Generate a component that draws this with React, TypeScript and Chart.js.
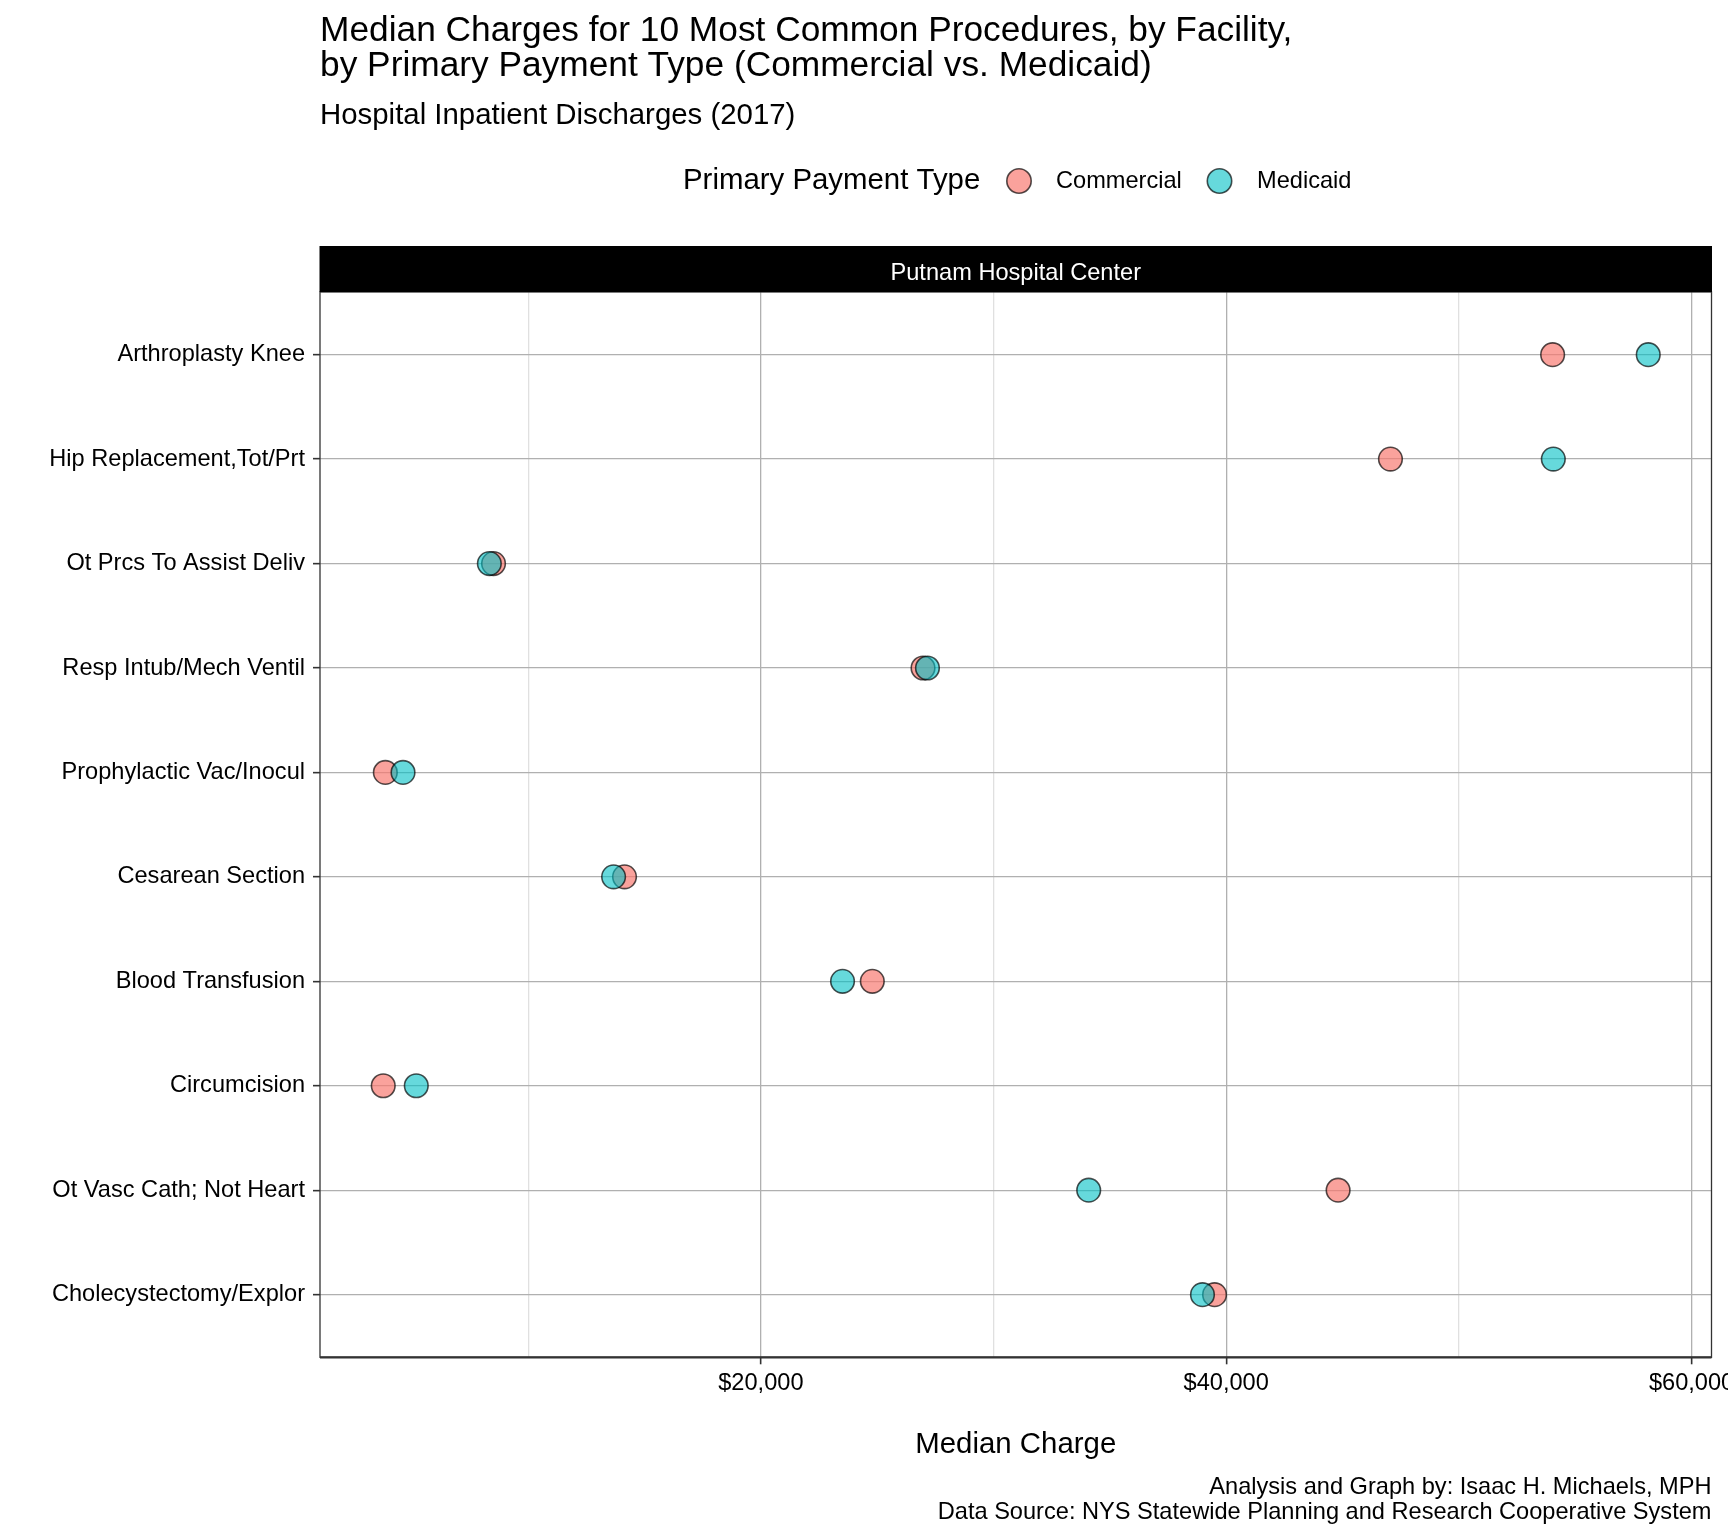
import React, { useEffect, useRef } from 'react';
import { Chart, registerables } from 'chart.js';

Chart.register(...registerables);

// ---------- data ----------
const procedures = [
  'Arthroplasty Knee',
  'Hip Replacement,Tot/Prt',
  'Ot Prcs To Assist Deliv',
  'Resp Intub/Mech Ventil',
  'Prophylactic Vac/Inocul',
  'Cesarean Section',
  'Blood Transfusion',
  'Circumcision',
  'Ot Vasc Cath; Not Heart',
  'Cholecystectomy/Explor',
];
const commercialCharges = [54030, 47060, 8510, 26970, 3860, 14140, 24790, 3770, 44810, 39500];
const medicaidCharges = [58140, 54060, 8330, 27160, 4620, 13670, 23510, 5190, 34090, 38980];
const seriesNames = ['Commercial', 'Medicaid'];
const xGridValues = [10000, 20000, 30000, 40000, 50000, 60000];
const majorTickValues = [20000, 40000, 60000];

const titleLines = [
  'Median Charges for 10 Most Common Procedures, by Facility,',
  'by Primary Payment Type (Commercial vs. Medicaid)',
];
const subtitle = 'Hospital Inpatient Discharges (2017)';
const legendTitle = 'Primary Payment Type';
const facility = 'Putnam Hospital Center';
const xTitle = 'Median Charge';
const captionLines = [
  'Analysis and Graph by: Isaac H. Michaels, MPH',
  'Data Source: NYS Statewide Planning and Research Cooperative System',
];

// ---------- styling ----------
const FONT = '"Liberation Sans", Arial, Helvetica, sans-serif';
const W = 1728;
const H = 1536;
const SMALL = 23.6;
const MEDIUM = 29.4;
const LARGE = 35.3;
const fillCommercial = 'rgba(248,118,109,0.68)';
const fillMedicaid = 'rgba(0,191,196,0.6)';
const pointBorder = 'rgba(0,0,0,0.68)';
const majorGrid = '#b0b0b0';
const minorGrid = '#e0e0e0';

const allVals = [...commercialCharges, ...medicaidCharges];
const dMin = Math.min(...allVals);
const dMax = Math.max(...allVals);
const xMin = dMin - 0.05 * (dMax - dMin);
const xMax = dMax + 0.05 * (dMax - dMin);

const fmtDollar = (v: number) => '$' + Math.round(v).toLocaleString('en-US');
const isMajor = (v: number) => majorTickValues.includes(v);

const decorPlugin = {
  id: 'decor',
  beforeDraw(chart: any) {
    const { ctx } = chart;
    ctx.save();
    ctx.fillStyle = '#ffffff';
    ctx.fillRect(0, 0, chart.width, chart.height);
    ctx.restore();
  },
  afterDraw(chart: any) {
    const { ctx, chartArea } = chart;
    const { left, right, top, bottom } = chartArea;
    ctx.save();

    // panel border
    ctx.strokeStyle = '#333333';
    ctx.lineWidth = 1.3;
    ctx.strokeRect(left, top, right - left, bottom - top);
    ctx.lineWidth = 2.2;
    ctx.beginPath();
    ctx.moveTo(left, bottom);
    ctx.lineTo(right, bottom);
    ctx.stroke();

    // facet strip
    const stripH = 46;
    ctx.fillStyle = '#000000';
    ctx.fillRect(left - 0.5, top - stripH, right - left + 1, stripH);
    ctx.fillStyle = '#ffffff';
    ctx.font = `${SMALL}px ${FONT}`;
    ctx.textAlign = 'center';
    ctx.textBaseline = 'middle';
    ctx.fillText(facility, (left + right) / 2, top - stripH / 2 + 4.5);

    // titles
    ctx.fillStyle = '#000000';
    ctx.textAlign = 'left';
    ctx.font = `${LARGE}px ${FONT}`;
    ctx.fillText(titleLines[0], left, 31.5);
    ctx.fillText(titleLines[1], left, 66);
    ctx.font = `${MEDIUM}px ${FONT}`;
    ctx.fillText(subtitle, left, 115.5);

    // legend
    const ly = 181;
    ctx.font = `${MEDIUM}px ${FONT}`;
    ctx.fillText(legendTitle, 683, ly);
    const keyX = [1019, 1219.5];
    const txtX = [1056, 1257];
    const fills = [chart.data.datasets[0].backgroundColor, chart.data.datasets[1].backgroundColor];
    for (let i = 0; i < 2; i++) {
      ctx.beginPath();
      ctx.arc(keyX[i], ly, 12.2, 0, Math.PI * 2);
      ctx.fillStyle = fills[i];
      ctx.fill();
      ctx.lineWidth = 1.6;
      ctx.strokeStyle = pointBorder;
      ctx.stroke();
      ctx.fillStyle = '#000000';
      ctx.font = `${SMALL}px ${FONT}`;
      ctx.fillText(seriesNames[i], txtX[i], ly);
    }

    // x axis title
    ctx.font = `${MEDIUM}px ${FONT}`;
    ctx.textAlign = 'center';
    ctx.fillText(xTitle, (left + right) / 2, 1445);

    // caption
    ctx.font = `${SMALL}px ${FONT}`;
    ctx.textAlign = 'right';
    ctx.fillText(captionLines[0], right, 1487);
    ctx.fillText(captionLines[1], right, 1512);

    ctx.restore();
  },
};

export default function App() {
  const canvasRef = useRef<HTMLCanvasElement | null>(null);

  useEffect(() => {
    document.body.style.margin = '0';
    const canvas = canvasRef.current;
    if (!canvas) return;

    const chart = new Chart(canvas, {
      type: 'scatter',
      data: {
        datasets: [
          {
            label: seriesNames[0],
            data: commercialCharges.map((v, i) => ({ x: v, y: i })),
            backgroundColor: fillCommercial,
            borderColor: pointBorder,
            borderWidth: 1.6,
            pointRadius: 11.8,
            order: 1,
          },
          {
            label: seriesNames[1],
            data: medicaidCharges.map((v, i) => ({ x: v, y: i })),
            backgroundColor: fillMedicaid,
            borderColor: pointBorder,
            borderWidth: 1.6,
            pointRadius: 11.8,
            order: 0,
          },
        ],
      },
      options: {
        responsive: false,
        animation: false,
        devicePixelRatio: 1,
        layout: {
          autoPadding: false,
          padding: { left: 0, right: W - 1711.5, top: 292, bottom: 138.7 },
        },
        plugins: {
          legend: { display: false },
          tooltip: { enabled: false },
        },
        scales: {
          x: {
            type: 'linear',
            position: 'bottom',
            min: xMin,
            max: xMax,
            afterBuildTicks: (s: any) => {
              s.ticks = xGridValues.map((v) => ({ value: v }));
            },
            afterFit: (s: any) => {
              s.height = 40;
              s.paddingLeft = 0;
              s.paddingRight = 0;
            },
            ticks: {
              autoSkip: false,
              maxRotation: 0,
              minRotation: 0,
              padding: 5,
              color: '#000000',
              font: { family: FONT, size: SMALL },
              callback: (v: any) => (isMajor(Number(v)) ? fmtDollar(Number(v)) : ''),
            },
            grid: {
              color: (c: any) => (c.tick && isMajor(c.tick.value) ? majorGrid : minorGrid),
              lineWidth: 1.3,
              tickLength: 7,
              tickColor: (c: any) => (c.tick && isMajor(c.tick.value) ? '#333333' : 'rgba(0,0,0,0)'),
              tickWidth: 1.6,
            },
            border: { display: false },
          },
          y: {
            type: 'linear',
            min: -0.6,
            max: procedures.length - 0.4,
            reverse: true,
            afterBuildTicks: (s: any) => {
              s.ticks = procedures.map((_, i) => ({ value: i }));
            },
            afterFit: (s: any) => {
              s.width = 320;
              s.paddingTop = 0;
              s.paddingBottom = 0;
            },
            ticks: {
              autoSkip: false,
              padding: 8,
              color: '#000000',
              font: { family: FONT, size: SMALL },
              callback: (v: any) => procedures[Number(v)] ?? '',
            },
            grid: {
              color: majorGrid,
              lineWidth: 1.3,
              tickLength: 7,
              tickColor: '#333333',
              tickWidth: 1.6,
            },
            border: { display: false },
          },
        },
      },
      plugins: [decorPlugin],
    } as any);

    return () => chart.destroy();
  }, []);

  return (
    <div style={{ width: W, height: H, background: '#fff' }}>
      <canvas ref={canvasRef} width={W} height={H} style={{ display: 'block', width: W, height: H }} />
    </div>
  );
}
